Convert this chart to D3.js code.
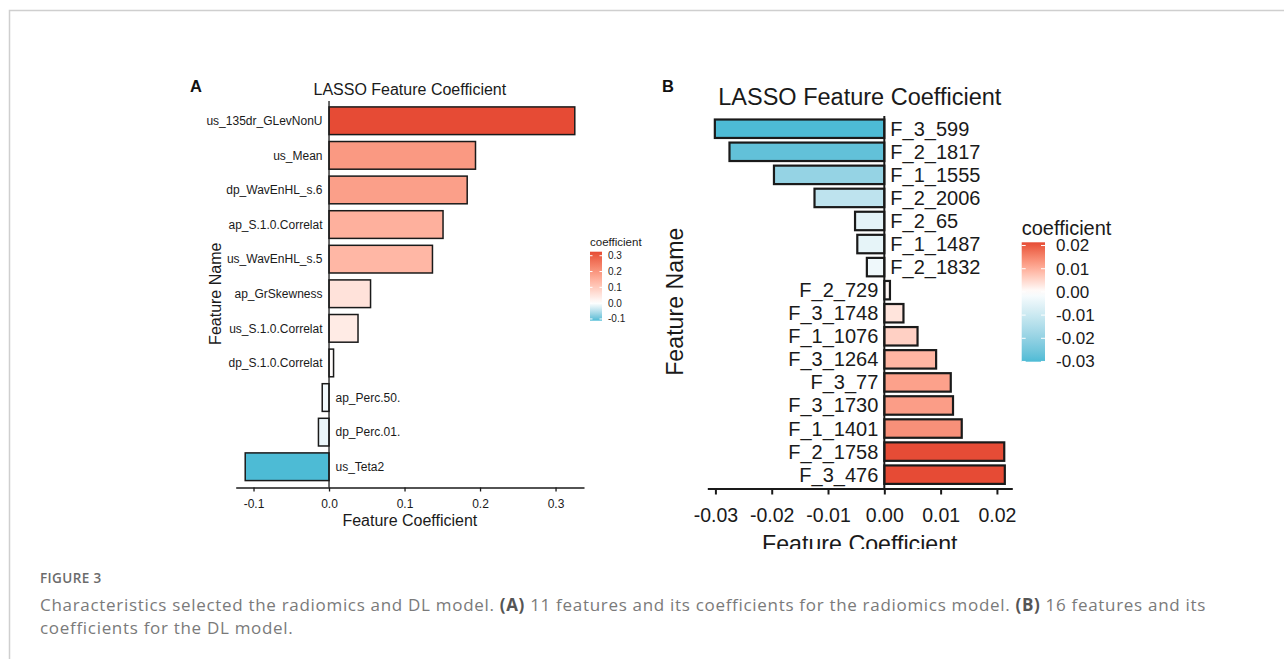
<!DOCTYPE html>
<html>
<head>
<meta charset="utf-8">
<script src="https://cdn.jsdelivr.net/npm/d3@7"></script>
<style>
  html, body { margin: 0; padding: 0; background: #fff; }
  svg { display: block; }
</style>
</head>
<body>
<svg id="fig" width="1284" height="659"></svg>
<script>
// panel A: radiomics model
const featuresA = ["us_135dr_GLevNonU", "us_Mean", "dp_WavEnHL_s.6", "ap_S.1.0.Correlat", "us_WavEnHL_s.5",
  "ap_GrSkewness", "us_S.1.0.Correlat", "dp_S.1.0.Correlat", "ap_Perc.50.", "dp_Perc.01.", "us_Teta2"]
const coefA = [0.3255, 0.194, 0.183, 0.151, 0.137, 0.055, 0.0384, 0.006, -0.009, -0.014, -0.111]
const ticksA = [-0.1, 0.0, 0.1, 0.2, 0.3]

// panel B: DL model
const featuresB = ["F_3_599", "F_2_1817", "F_1_1555", "F_2_2006", "F_2_65", "F_1_1487", "F_2_1832", "F_2_729",
  "F_3_1748", "F_1_1076", "F_3_1264", "F_3_77", "F_3_1730", "F_1_1401", "F_2_1758", "F_3_476"]
const coefB = [-0.0301, -0.0275, -0.0196, -0.0124, -0.0052, -0.0048, -0.0031, 0.0010,
  0.0034, 0.0059, 0.0092, 0.0118, 0.0122, 0.01375, 0.0213, 0.0214]
const ticksB = [-0.03, -0.02, -0.01, 0.00, 0.01, 0.02]

const LOW = "#4DBBD5", MID = "#ffffff", HIGH = "#E64B35"
const FONT = "'Liberation Sans', Arial, Helvetica, sans-serif"

const svg = d3.select("#fig")

// page frame
svg.append("path")
  .attr("d", "M9.5,659 V10.5 H1284")
  .attr("fill", "none")
  .attr("stroke", "#cfcfcf")
  .attr("stroke-width", 1.5)

// R style numbers: plain hyphen for the minus sign
const fmtWith = p => v => d3.format(p)(v).replace("\u2212", "-")

function panel(opt) {
  const g = svg.append("g").attr("font-family", FONT)
  if (opt.clipBottom) {
    const id = "clip" + opt.letter
    svg.append("clipPath").attr("id", id)
      .append("rect").attr("x", 0).attr("y", 0).attr("width", 1284).attr("height", opt.clipBottom)
    g.attr("clip-path", "url(#" + id + ")")
  }
  const data = opt.names.map((n, i) => ({ name: n, value: opt.values[i] }))
  const ext = d3.extent(opt.values)

  const x = d3.scaleLinear().domain(opt.xDomain).range(opt.xRange)
  const y = d3.scaleBand().domain(opt.names).range(opt.yRange).paddingInner(0.2).paddingOuter(0.2)
  const color = d3.scaleLinear().domain([ext[0], 0, ext[1]]).range([LOW, MID, HIGH]).interpolate(d3.interpolateLab)

  // bars
  g.selectAll("rect.bar").data(data).join("rect")
    .attr("class", "bar")
    .attr("x", d => x(Math.min(0, d.value)))
    .attr("width", d => Math.abs(x(d.value) - x(0)))
    .attr("y", d => y(d.name))
    .attr("height", y.bandwidth())
    .attr("fill", d => color(d.value))
    .attr("stroke", "#1a1a1a")
    .attr("stroke-width", opt.barStroke)

  // zero line
  g.append("line")
    .attr("x1", x(0)).attr("x2", x(0))
    .attr("y1", opt.yRange[0] + 1).attr("y2", opt.yRange[1])
    .attr("stroke", "#1a1a1a").attr("stroke-width", opt.axisStroke)

  // labels on the opposite side of the zero line
  g.selectAll("text.lab").data(data).join("text")
    .attr("class", "lab")
    .attr("x", d => d.value >= 0 ? x(0) - opt.labGap : x(0) + opt.labGap)
    .attr("y", d => y(d.name) + y.bandwidth() / 2)
    .attr("dy", "0.35em")
    .attr("text-anchor", d => d.value >= 0 ? "end" : "start")
    .attr("font-size", opt.labSize)
    .attr("fill", "#1a1a1a")
    .text(d => d.name)

  // x axis
  const axis = g.append("g")
    .attr("transform", "translate(0," + opt.yRange[1] + ")")
    .call(d3.axisBottom(x).tickValues(opt.ticks).tickFormat(opt.fmt).tickSize(opt.tickLen).tickSizeOuter(0))
  axis.select(".domain").attr("stroke", "#1a1a1a").attr("stroke-width", opt.axisStroke)
  axis.selectAll(".tick line").attr("stroke", "#1a1a1a").attr("stroke-width", opt.axisStroke)
  axis.selectAll(".tick text")
    .attr("font-family", FONT).attr("font-size", opt.tickSize).attr("fill", "#1a1a1a")
    .attr("y", opt.tickLen + opt.tickPad)

  const cx = (opt.xRange[0] + opt.xRange[1]) / 2
  const cy = (opt.yRange[0] + opt.yRange[1]) / 2
  g.append("text").attr("x", cx).attr("y", opt.titleY).attr("text-anchor", "middle")
    .attr("font-size", opt.titleSize).attr("fill", "#1a1a1a").text("LASSO Feature Coefficient")
  g.append("text").attr("x", cx).attr("y", opt.xLabelY).attr("text-anchor", "middle")
    .attr("font-size", opt.axisTitleSize).attr("fill", "#1a1a1a").text("Feature Coefficient")
  g.append("text").attr("transform", "translate(" + opt.yLabelX + "," + cy + ") rotate(-90)")
    .attr("text-anchor", "middle")
    .attr("font-size", opt.axisTitleSize).attr("fill", "#1a1a1a").text("Feature Name")

  // panel letter
  g.append("text").attr("x", opt.letterX).attr("y", 92)
    .attr("font-size", 16.5).attr("font-weight", "bold").attr("fill", "#111").text(opt.letter)

  // colour bar legend
  const lg = opt.legend
  const gid = "grad" + opt.letter
  const grad = svg.append("defs").append("linearGradient").attr("id", gid)
    .attr("x1", 0).attr("x2", 0).attr("y1", 1).attr("y2", 0)
  d3.range(0, 1.0001, 0.05).forEach(t => {
    const v = ext[0] + t * (ext[1] - ext[0])
    grad.append("stop").attr("offset", t).attr("stop-color", color(v))
  })
  const ly = d3.scaleLinear().domain(ext).range([lg.y + lg.h, lg.y])
  g.append("rect").attr("x", lg.x).attr("y", lg.y).attr("width", lg.w).attr("height", lg.h)
    .attr("fill", "url(#" + gid + ")")
  opt.ticks.forEach(t => {
    const yy = ly(t)
    g.append("line").attr("x1", lg.x).attr("x2", lg.x + lg.mark).attr("y1", yy).attr("y2", yy)
      .attr("stroke", "#fff").attr("stroke-width", 1)
    g.append("line").attr("x1", lg.x + lg.w - lg.mark).attr("x2", lg.x + lg.w).attr("y1", yy).attr("y2", yy)
      .attr("stroke", "#fff").attr("stroke-width", 1)
    g.append("text").attr("x", lg.x + lg.w + lg.gap).attr("y", yy).attr("dy", "0.35em")
      .attr("font-size", lg.labSize).attr("fill", "#1a1a1a").text(opt.fmt(t))
  })
  g.append("text").attr("x", lg.x).attr("y", lg.titleY)
    .attr("font-size", lg.titleSize).attr("fill", "#1a1a1a").text("coefficient")
}

panel({
  letter: "A", letterX: 190,
  names: featuresA, values: coefA, ticks: ticksA, fmt: fmtWith(".1f"),
  xDomain: [-0.1236, 0.3377], xRange: [235.7, 584], yRange: [100, 487.5],
  barStroke: 1.5, axisStroke: 1.3, labGap: 6.5, labSize: 12,
  tickLen: 4, tickPad: 8, tickSize: 12,
  titleY: 95, titleSize: 16, xLabelY: 526, yLabelX: 221, axisTitleSize: 16,
  legend: { x: 590, y: 251.7, w: 12, h: 69, mark: 2.5, gap: 6, labSize: 10, titleY: 246, titleSize: 11.5 }
})

panel({
  letter: "B", letterX: 662, clipBottom: 549,
  names: featuresB, values: coefB, ticks: ticksB, fmt: fmtWith(".2f"),
  xDomain: [-0.03144, 0.02273], xRange: [707.3, 1012.3], yRange: [114.9, 488.5],
  barStroke: 2.2, axisStroke: 2, labGap: 6, labSize: 20,
  tickLen: 6, tickPad: 14, tickSize: 19.5,
  titleY: 105, titleSize: 23.5, xLabelY: 552, yLabelX: 683, axisTitleSize: 23.2,
  legend: { x: 1021.7, y: 242.3, w: 23.3, h: 119.4, mark: 4, gap: 11, labSize: 17, titleY: 235, titleSize: 20 }
})

// caption: the original face is wider than Open Sans, so open the tracking to fit line one
const cap = svg.append("g").attr("font-family", "'Open Sans', 'Noto Sans', sans-serif")
cap.append("text").attr("x", 40).attr("y", 583).attr("font-size", 13.5).attr("font-weight", 600)
  .attr("letter-spacing", 0.4).attr("fill", "#6b6b6b").text("FIGURE 3")
const line1 = cap.append("text").attr("x", 40).attr("y", 611).attr("font-size", 17).attr("fill", "#7a7a7a")
line1.append("tspan").text("Characteristics selected the radiomics and DL model. ")
line1.append("tspan").attr("font-weight", 700).attr("fill", "#555").text("(A)")
line1.append("tspan").text(" 11 features and its coefficients for the radiomics model. ")
line1.append("tspan").attr("font-weight", 700).attr("fill", "#555").text("(B)")
line1.append("tspan").text(" 16 features and its")
const nChars = line1.text().length
const spacing = (1166 - line1.node().getComputedTextLength()) / nChars
line1.attr("letter-spacing", spacing)
cap.append("text").attr("x", 40).attr("y", 634).attr("font-size", 17).attr("fill", "#7a7a7a")
  .attr("letter-spacing", spacing)
  .text("coefficients for the DL model.")
</script>
</body>
</html>
